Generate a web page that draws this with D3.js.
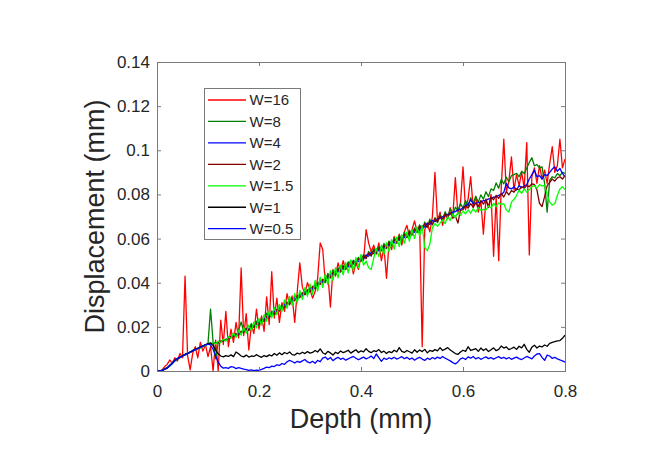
<!DOCTYPE html>
<html>
<head>
<meta charset="utf-8">
<script src="https://cdn.jsdelivr.net/npm/d3@7"></script>
<style>
  body { margin: 0; background: #fff; }
  text { font-family: 'Liberation Sans', Arial, Helvetica, sans-serif; fill: #262626; }
</style>
</head>
<body>
<svg id="chart" width="659" height="454"></svg>
<script>
// every series is sampled on the same depth grid, 0 .. 0.8 mm
const depthStep = 0.005;

const seriesNames = ['W=16', 'W=8', 'W=4', 'W=2', 'W=1.5', 'W=1', 'W=0.5'];
const seriesColors = ['#ff0000', '#008000', '#0000ff', '#800000', '#00ff00', '#000000', '#0000ff'];

const w16 = [
  0, 0, 0.0005, 0.002, 0.003, 0.005, 0.0035, 0.006, 0.0045, 0.008,
  0.006, 0.043, 0.007, 0.0005, 0.008, 0.011, 0.006, 0.013, 0.009, 0.012,
  0.0065, 0.011, 0, 0.014, 0, 0.023, 0.012, 0.027, 0.011, 0.019,
  0.013, 0.022, 0.015, 0.0467, 0.016, 0.026, 0.0095, 0.021, 0.017, 0.028,
  0.019, 0.025, 0.018, 0.0336, 0.021, 0.045, 0.024, 0.033, 0.022, 0.031,
  0.027, 0.035, 0.03, 0.034, 0.022, 0.036, 0.049, 0.038, 0.035, 0.04,
  0.037, 0.033, 0.036, 0.042, 0.058, 0.055, 0.04, 0.044, 0.029, 0.046,
  0.043, 0.049, 0.045, 0.05, 0.046, 0.048, 0.05, 0.044, 0.049, 0.046,
  0.052, 0.05, 0.064, 0.058, 0.054, 0.057, 0.053, 0.058, 0.05, 0.056,
  0.042, 0.058, 0.055, 0.061, 0.058, 0.062, 0.057, 0.063, 0.066, 0.061,
  0.064, 0.068, 0.063, 0.066, 0.011, 0.064, 0.067, 0.063, 0.07, 0.09,
  0.068, 0.072, 0.066, 0.071, 0.069, 0.074, 0.07, 0.0876, 0.071, 0.076,
  0.0925, 0.073, 0.078, 0.088, 0.074, 0.079, 0.072, 0.077, 0.062, 0.078,
  0.074, 0.08, 0.052, 0.079, 0.05, 0.083, 0.105, 0.081, 0.086, 0.097,
  0.082, 0.089, 0.084, 0.09, 0.083, 0.1035, 0.0526, 0.088, 0.092, 0.085,
  0.093, 0.087, 0.091, 0.085, 0.094, 0.1016, 0.09, 0.093, 0.105, 0.092,
  0.096
];

const w8 = [
  0, 0, 0.0004, 0.001, 0.0016, 0.0024, 0.0036, 0.0046, 0.0054, 0.006,
  0.0068, 0.0072, 0.008, 0.0086, 0.009, 0.0098, 0.0101, 0.0108, 0.0112, 0.0117,
  0.0125, 0.028, 0.013, 0.0055, 0.0128, 0.0135, 0.014, 0.0138, 0.015, 0.0152,
  0.0168, 0.0158, 0.0185, 0.0222, 0.0178, 0.0195, 0.0183, 0.0215, 0.0198, 0.0226,
  0.0205, 0.0238, 0.0226, 0.0262, 0.0241, 0.0272, 0.0255, 0.0268, 0.0295, 0.0281,
  0.0312, 0.0296, 0.0328, 0.0309, 0.0341, 0.0322, 0.0352, 0.0338, 0.0368, 0.0349,
  0.0385, 0.0362, 0.0396, 0.0384, 0.0418, 0.0398, 0.0405, 0.0442, 0.0421, 0.0455,
  0.0436, 0.0468, 0.0448, 0.0479, 0.0462, 0.0495, 0.0471, 0.0502, 0.0488, 0.0515,
  0.0496, 0.0528, 0.0509, 0.0542, 0.0521, 0.0555, 0.0532, 0.0561, 0.0545, 0.0578,
  0.0555, 0.0589, 0.0568, 0.0602, 0.0579, 0.0615, 0.0592, 0.0628, 0.0604, 0.0638,
  0.0615, 0.0648, 0.0629, 0.0662, 0.0638, 0.0675, 0.065, 0.0688, 0.0662, 0.0695,
  0.0672, 0.0708, 0.0685, 0.0722, 0.0695, 0.0735, 0.0705, 0.0742, 0.0728, 0.0758,
  0.0738, 0.0772, 0.0745, 0.0785, 0.0758, 0.0792, 0.0765, 0.0798, 0.0778, 0.0812,
  0.079, 0.0825, 0.0818, 0.0852, 0.0828, 0.0868, 0.0848, 0.0878, 0.0858, 0.0885,
  0.089, 0.0895, 0.088, 0.0905, 0.0895, 0.092, 0.0945, 0.0966, 0.093, 0.0935,
  0.092, 0.0925, 0.085, 0.072, 0.0865, 0.088, 0.0875, 0.0895, 0.0885, 0.09,
  0.0895
];

const w4 = [
  0, 0, 0.0003, 0.0009, 0.0015, 0.0026, 0.0034, 0.0047, 0.0056, 0.0061,
  0.0069, 0.0073, 0.0081, 0.0084, 0.0092, 0.0096, 0.0103, 0.0106, 0.0114, 0.0117,
  0.0123, 0.0122, 0.0127, 0.0126, 0.0131, 0.0132, 0.0138, 0.0141, 0.0149, 0.0153,
  0.0161, 0.0164, 0.0171, 0.0175, 0.0182, 0.0185, 0.0192, 0.0196, 0.0205, 0.021,
  0.0222, 0.0221, 0.0238, 0.0237, 0.0254, 0.0253, 0.027, 0.0269, 0.0286, 0.0285,
  0.0302, 0.0301, 0.0317, 0.0315, 0.0331, 0.0329, 0.0345, 0.0343, 0.0359, 0.0357,
  0.0374, 0.0372, 0.039, 0.0388, 0.0406, 0.0404, 0.0422, 0.042, 0.0438, 0.0435,
  0.0452, 0.0449, 0.0465, 0.046, 0.0477, 0.0472, 0.0489, 0.0484, 0.0501, 0.0496,
  0.0513, 0.0508, 0.0526, 0.052, 0.0538, 0.0532, 0.055, 0.0544, 0.0562, 0.0556,
  0.0574, 0.0568, 0.0586, 0.058, 0.0598, 0.0592, 0.061, 0.0604, 0.0622, 0.0616,
  0.0634, 0.0628, 0.0646, 0.064, 0.0658, 0.0652, 0.067, 0.0664, 0.0682, 0.0676,
  0.0689, 0.0692, 0.0699, 0.0702, 0.071, 0.0712, 0.072, 0.0722, 0.073, 0.0732,
  0.074, 0.0748, 0.0755, 0.0776, 0.0758, 0.076, 0.0764, 0.0765, 0.0772, 0.0773,
  0.078, 0.0781, 0.0788, 0.0789, 0.0796, 0.08, 0.081, 0.085, 0.083, 0.0825,
  0.0835, 0.082, 0.084, 0.083, 0.0838, 0.0845, 0.087, 0.089, 0.091, 0.088,
  0.0885, 0.087, 0.089, 0.0885, 0.09, 0.0915, 0.0925, 0.0905, 0.0918, 0.0895,
  0.088
];

const w2 = [
  0, 0, 0.0002, 0.0007, 0.0013, 0.0023, 0.0036, 0.0046, 0.0056, 0.0063,
  0.0067, 0.0075, 0.0078, 0.0086, 0.009, 0.0098, 0.0101, 0.0108, 0.0112, 0.0119,
  0.0121, 0.0125, 0.0124, 0.0129, 0.0128, 0.0135, 0.0135, 0.0144, 0.0146, 0.0156,
  0.0155, 0.017, 0.0162, 0.0181, 0.0175, 0.0192, 0.0184, 0.0203, 0.0199, 0.0216,
  0.0212, 0.0231, 0.0225, 0.0248, 0.024, 0.0262, 0.0258, 0.028, 0.0271, 0.0296,
  0.0288, 0.0312, 0.0302, 0.0328, 0.0318, 0.0341, 0.0332, 0.0355, 0.0345, 0.0368,
  0.0358, 0.0384, 0.0372, 0.0399, 0.0392, 0.0416, 0.0405, 0.0431, 0.0424, 0.0446,
  0.0438, 0.046, 0.045, 0.0474, 0.0462, 0.0485, 0.0475, 0.0498, 0.0486, 0.051,
  0.0499, 0.0522, 0.0511, 0.0534, 0.0522, 0.0546, 0.0535, 0.0558, 0.0546, 0.0569,
  0.0558, 0.0582, 0.0569, 0.0594, 0.0582, 0.0606, 0.0594, 0.0618, 0.0606, 0.063,
  0.0618, 0.0642, 0.063, 0.0655, 0.0642, 0.0667, 0.0652, 0.0678, 0.0665, 0.069,
  0.0676, 0.0701, 0.0686, 0.0712, 0.0695, 0.0718, 0.0692, 0.0702, 0.067, 0.0728,
  0.0731, 0.0748, 0.0738, 0.0758, 0.0742, 0.0762, 0.0745, 0.0772, 0.0756, 0.0776,
  0.0742, 0.0788, 0.0776, 0.0796, 0.0782, 0.0805, 0.0788, 0.0812, 0.0798, 0.0818,
  0.081, 0.0825, 0.082, 0.0835, 0.0828, 0.084, 0.0835, 0.0848, 0.0845, 0.082,
  0.076, 0.0745, 0.079, 0.084, 0.0855, 0.087, 0.086, 0.0875, 0.088, 0.087,
  0.0885
];

const w1p5 = [
  0, 0, 0.0004, 0.0008, 0.0017, 0.0022, 0.0037, 0.0045, 0.0058, 0.006,
  0.0071, 0.0072, 0.0082, 0.0083, 0.0094, 0.0095, 0.0105, 0.0104, 0.0116, 0.0114,
  0.0126, 0.0118, 0.0131, 0.0122, 0.0136, 0.0128, 0.0145, 0.0136, 0.0155, 0.0147,
  0.0172, 0.0152, 0.0185, 0.0162, 0.0196, 0.0171, 0.0208, 0.0182, 0.0222, 0.0195,
  0.0238, 0.0208, 0.0255, 0.0225, 0.0272, 0.0241, 0.0288, 0.0255, 0.0302, 0.027,
  0.0322, 0.0284, 0.0338, 0.0298, 0.0351, 0.0309, 0.0365, 0.0325, 0.0378, 0.0338,
  0.0395, 0.0348, 0.041, 0.0362, 0.0425, 0.0378, 0.044, 0.0392, 0.0455, 0.041,
  0.0468, 0.0422, 0.048, 0.0436, 0.0492, 0.0445, 0.0503, 0.0455, 0.0515, 0.0468,
  0.0528, 0.048, 0.0498, 0.0468, 0.046, 0.0512, 0.0556, 0.0518, 0.057, 0.0528,
  0.0582, 0.054, 0.0595, 0.0552, 0.0606, 0.0564, 0.0618, 0.0578, 0.063, 0.0588,
  0.064, 0.06, 0.0652, 0.0612, 0.0658, 0.056, 0.0545, 0.0575, 0.065, 0.0668,
  0.0655, 0.067, 0.0685, 0.0668, 0.07, 0.0682, 0.0712, 0.0695, 0.072, 0.0705,
  0.0725, 0.0712, 0.073, 0.0715, 0.0735, 0.072, 0.074, 0.0728, 0.0732, 0.073,
  0.0748, 0.0738, 0.076, 0.0745, 0.0762, 0.0755, 0.0758, 0.073, 0.072, 0.0765,
  0.0778, 0.0795, 0.082, 0.0805, 0.0825, 0.081, 0.0822, 0.0835, 0.084, 0.0828,
  0.0845, 0.0838, 0.0842, 0.08, 0.0765, 0.0752, 0.0758, 0.0795, 0.0825, 0.0835,
  0.0822
];

const w1 = [
  0, 0, 0.0003, 0.0008, 0.0013, 0.0024, 0.0035, 0.0049, 0.0055, 0.0063,
  0.0069, 0.0075, 0.008, 0.0086, 0.0092, 0.0098, 0.0103, 0.0108, 0.0114, 0.0119,
  0.0124, 0.0127, 0.0115, 0.0095, 0.0078, 0.0068, 0.0064, 0.007, 0.0066, 0.0073,
  0.0065, 0.0086, 0.0078, 0.0068, 0.0064, 0.0072, 0.0063, 0.0068, 0.0066, 0.0074,
  0.0067, 0.0062, 0.007, 0.0065, 0.0073, 0.0068, 0.0079, 0.0071, 0.0082, 0.0074,
  0.0084, 0.0078, 0.0086, 0.0074, 0.0072, 0.0081, 0.0077, 0.0085, 0.0079, 0.0088,
  0.0081, 0.0084, 0.0093, 0.0086, 0.01, 0.0083, 0.0076, 0.0089, 0.0082, 0.0072,
  0.0085, 0.0079, 0.0091, 0.0083, 0.0088, 0.0094, 0.0081, 0.0089, 0.0096, 0.0084,
  0.0091, 0.0087, 0.0101, 0.0089, 0.0083, 0.0092, 0.0088, 0.0097, 0.0084, 0.009,
  0.0079, 0.0088, 0.0083, 0.0094, 0.0087, 0.0106, 0.0089, 0.0084, 0.0093, 0.0087,
  0.0081, 0.0096, 0.0085, 0.0095, 0.0088, 0.0098, 0.0082, 0.0093, 0.0089, 0.0097,
  0.0091, 0.0106, 0.0093, 0.0099, 0.0106, 0.0095, 0.0087, 0.0079, 0.0075, 0.0086,
  0.0094, 0.0089, 0.011, 0.0093, 0.0097, 0.0101, 0.0089, 0.0104, 0.0093, 0.0101,
  0.0088, 0.0096, 0.0105, 0.0092, 0.0098, 0.0113, 0.0104, 0.0109, 0.0097, 0.0102,
  0.0108, 0.0098, 0.0112, 0.0105, 0.0121, 0.0098, 0.0085, 0.0108, 0.0117, 0.0104,
  0.0113, 0.0109, 0.0118, 0.0112, 0.0125, 0.013, 0.0133, 0.0136, 0.0138, 0.0148,
  0.0163
];

const w0p5 = [
  0, 0, 0.0003, 0.0009, 0.0014, 0.0025, 0.0034, 0.0048, 0.0056, 0.0062,
  0.0068, 0.0074, 0.0079, 0.0085, 0.0091, 0.0097, 0.0102, 0.0107, 0.0113, 0.0118,
  0.0122, 0.0118, 0.0098, 0.0068, 0.004, 0.0022, 0.0013, 0.0015, 0.0012, 0.002,
  0.0018, 0.0011, 0.0015, 0.0012, 0.0008, 0.0006, 0.0003, 0.0005, 0.0002, 0.0004,
  0.0003, 0.0007, 0.0012, 0.0018, 0.0015, 0.0022, 0.002, 0.0028, 0.0025, 0.0034,
  0.003, 0.0042, 0.0048, 0.0043, 0.0036, 0.0044, 0.0039, 0.0046, 0.0052, 0.0041,
  0.0037, 0.0044, 0.0035, 0.0048, 0.0042, 0.0058, 0.0063, 0.0052, 0.0061, 0.0047,
  0.0056, 0.0062, 0.0053, 0.0058, 0.0049, 0.0055, 0.0061, 0.0066, 0.0058, 0.0051,
  0.0057, 0.0063, 0.0055, 0.006, 0.0068, 0.0056, 0.0077, 0.0061, 0.0044, 0.0058,
  0.0052, 0.006, 0.0055, 0.0062, 0.0054, 0.0059, 0.0065, 0.0056, 0.0062, 0.0053,
  0.0059, 0.0049, 0.0057, 0.0062, 0.0054, 0.0048, 0.0058, 0.0052, 0.0061, 0.0055,
  0.0063, 0.0057, 0.0066, 0.0058, 0.0052, 0.0046, 0.0038, 0.0032, 0.0041, 0.0055,
  0.0059, 0.0052, 0.0064, 0.0058, 0.0066, 0.0055, 0.0061, 0.0053, 0.0059, 0.0064,
  0.0056, 0.0061, 0.0054, 0.006, 0.0065, 0.0057, 0.0062, 0.0055, 0.0061, 0.0053,
  0.0058, 0.0063, 0.0056, 0.0052, 0.0059, 0.0066, 0.0061, 0.0055, 0.0068, 0.0077,
  0.0079, 0.0062, 0.0048, 0.0072, 0.0068, 0.0057, 0.0062, 0.0055, 0.005, 0.0046,
  0.004
];

const xTicks = [0, 0.2, 0.4, 0.6, 0.8];
const yTicks = [0, 0.02, 0.04, 0.06, 0.08, 0.1, 0.12, 0.14];

const seriesValues = [w16, w8, w4, w2, w1p5, w1, w0p5];

const width = 659;
const height = 454;
const margin = {left: 157, top: 62, right: 94, bottom: 83};
const plotW = width - margin.left - margin.right;
const plotH = height - margin.top - margin.bottom;

const svg = d3.select('#chart');

const x = d3.scaleLinear().domain([0, 0.8]).range([margin.left, margin.left + plotW]);
const y = d3.scaleLinear().domain([0, 0.14]).range([margin.top + plotH, margin.top]);

const fmt = (d) => d === 0 ? '0' : String(+d.toFixed(2));
const axisColor = '#7a7a7a';

// lines, first series at the bottom like the original plot order
const line = d3.line()
  .x((d, i) => x(i * depthStep))
  .y((d) => y(d));

svg.append('g')
  .attr('fill', 'none')
  .attr('stroke-width', 1.3)
  .attr('stroke-linejoin', 'round')
  .selectAll('path')
  .data(seriesValues)
  .join('path')
  .attr('stroke', (d, i) => seriesColors[i])
  .attr('d', line);

// axes, ticks pointing inwards
const styleAxis = (g) => {
  g.select('.domain').remove();
  g.selectAll('.tick line').attr('stroke', axisColor);
  g.selectAll('.tick text')
    .attr('fill', '#262626')
    .attr('font-size', 17)
    .attr('font-family', '\'Liberation Sans\', Arial, sans-serif');
};

svg.append('g')
  .attr('transform', `translate(0,${margin.top + plotH})`)
  .call(d3.axisBottom(x).tickValues(xTicks).tickFormat(fmt).tickSizeInner(-4).tickSizeOuter(0).tickPadding(14))
  .call(styleAxis);

svg.append('g')
  .attr('transform', `translate(0,${margin.top})`)
  .call(d3.axisTop(x).tickValues(xTicks).tickFormat('').tickSizeInner(-4).tickSizeOuter(0))
  .call(styleAxis);

svg.append('g')
  .attr('transform', `translate(${margin.left},0)`)
  .call(d3.axisLeft(y).tickValues(yTicks).tickFormat(fmt).tickSizeInner(-4).tickSizeOuter(0).tickPadding(7))
  .call(styleAxis);

svg.append('g')
  .attr('transform', `translate(${margin.left + plotW},0)`)
  .call(d3.axisRight(y).tickValues(yTicks).tickFormat('').tickSizeInner(-4).tickSizeOuter(0))
  .call(styleAxis);

svg.append('rect')
  .attr('x', margin.left + 0.5)
  .attr('y', margin.top + 0.5)
  .attr('width', plotW)
  .attr('height', plotH)
  .attr('fill', 'none')
  .attr('stroke', axisColor);

// axis titles
svg.append('text')
  .attr('x', margin.left + plotW / 2)
  .attr('y', 428)
  .attr('text-anchor', 'middle')
  .attr('font-size', 27)
  .text('Depth (mm)');

svg.append('text')
  .attr('transform', `translate(104,${margin.top + plotH / 2}) rotate(-90)`)
  .attr('text-anchor', 'middle')
  .attr('font-size', 27)
  .text('Displacement (mm)');

// legend
const legend = svg.append('g');
legend.append('rect')
  .attr('x', 204.5)
  .attr('y', 88.5)
  .attr('width', 96)
  .attr('height', 151)
  .attr('fill', '#fff')
  .attr('stroke', axisColor);

const rowH = 21.45;
const item = legend.selectAll('g.item')
  .data(seriesNames)
  .join('g')
  .attr('class', 'item')
  .attr('transform', (d, i) => `translate(0,${100 + i * rowH})`);

item.append('line')
  .attr('x1', 208)
  .attr('x2', 246)
  .attr('stroke-width', 1.3)
  .attr('stroke', (d, i) => seriesColors[i]);

item.append('text')
  .attr('x', 249.5)
  .attr('dy', '0.35em')
  .attr('font-size', 15)
  .text((d) => d);
</script>
</body>
</html>
